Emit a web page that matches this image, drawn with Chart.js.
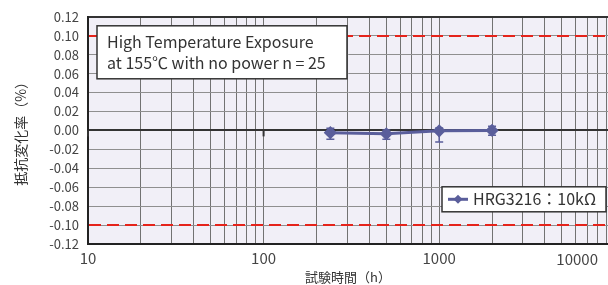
<!DOCTYPE html>
<html>
<head>
<meta charset="utf-8">
<script src="https://cdn.jsdelivr.net/npm/chart.js@4.4.1/dist/chart.umd.min.js"></script>
<style>
  html, body { margin: 0; padding: 0; background: #fff; }
  #wrap { width: 608px; height: 285px; position: relative; }
</style>
</head>
<body>
<div id="wrap"><canvas id="myChart"></canvas></div>
<script>
// test time (h) and resistance change (%)
const hours = [240, 500, 1000, 2000];
const meanChange = [-0.0024, -0.0036, -0.0004, 0.0000];
const maxChange = [0.0024, 0.0004, 0.0025, 0.0043];
const minChange = [-0.0093, -0.0093, -0.0122, -0.0051];
const limits = [0.10, -0.10];
const decadeLabels = [10, 100, 1000];
const lastDecadeLabel = '10000';
const seriesName = 'HRG3216：10kΩ';
const noteLines = ['High Temperature Exposure', 'at 155℃ with no power n = 25'];

const FONT = "'Noto Sans CJK JP', 'Noto Sans', sans-serif";
const lineColor = '#5a5e9b';
const xMin = 10, xMax = 9150;

// gridline positions 10,20..90,100,200..9000
const xGrid = [];
[10, 100, 1000].forEach(d => { for (let m = 1; m <= 9; m++) xGrid.push(d * m); });

const extras = {
  id: 'extras',
  beforeDraw(chart) {
    const {ctx, chartArea: a} = chart;
    ctx.save();
    ctx.fillStyle = '#f1eff7';
    ctx.fillRect(a.left, a.top, a.right - a.left, a.bottom - a.top);
    ctx.restore();
  },
  beforeDatasetsDraw(chart) {
    const {ctx, chartArea: a, scales: {x, y}} = chart;
    ctx.save();
    // spec limits
    ctx.strokeStyle = '#e5231b';
    ctx.lineWidth = 2;
    ctx.setLineDash([12, 6]);
    limits.forEach(v => {
      const py = Math.round(y.getPixelForValue(v));
      ctx.beginPath();
      ctx.moveTo(a.left + 1, py);
      ctx.lineTo(a.right, py);
      ctx.stroke();
    });
    ctx.setLineDash([]);
    // axis tick marks on the zero line
    ctx.strokeStyle = '#333';
    ctx.lineWidth = 2;
    const y0 = y.getPixelForValue(0);
    decadeLabels.forEach(v => {
      const px = x.getPixelForValue(v);
      ctx.beginPath();
      ctx.moveTo(px, y0);
      ctx.lineTo(px, y0 + 6);
      ctx.stroke();
    });
    ctx.restore();
  },
  afterDatasetsDraw(chart) {
    const {ctx, scales: {y}} = chart;
    const meta = chart.getDatasetMeta(0);
    ctx.save();
    ctx.strokeStyle = lineColor;
    ctx.lineWidth = 1.5;
    meta.data.forEach((pt, i) => {
      const top = y.getPixelForValue(maxChange[i]);
      const bot = y.getPixelForValue(minChange[i]);
      ctx.beginPath();
      ctx.moveTo(pt.x, top); ctx.lineTo(pt.x, bot);
      ctx.moveTo(pt.x - 4, top); ctx.lineTo(pt.x + 4, top);
      ctx.moveTo(pt.x - 4, bot); ctx.lineTo(pt.x + 4, bot);
      ctx.stroke();
    });
    ctx.restore();
  },
  afterDraw(chart) {
    const {ctx, chartArea: a, scales: {x}} = chart;
    ctx.save();
    // note box
    const nx = a.left + 9, ny = a.top + 9;
    ctx.fillStyle = '#fff';
    ctx.fillRect(nx, ny, 250, 53);
    ctx.strokeStyle = '#333';
    ctx.lineWidth = 1.5;
    ctx.strokeRect(nx, ny, 250, 53);
    ctx.fillStyle = '#333';
    ctx.font = '16px ' + FONT;
    ctx.textAlign = 'left';
    ctx.textBaseline = 'middle';
    noteLines.forEach((t, i) => ctx.fillText(t, nx + 10, ny + 16 + i * 21));

    // legend
    const lx = a.right - 166, ly = a.top + 170;
    ctx.fillStyle = '#fff';
    ctx.fillRect(lx, ly, 164, 25);
    ctx.strokeRect(lx, ly, 164, 25);
    const cy = ly + 12.5;
    ctx.strokeStyle = lineColor;
    ctx.lineWidth = 3;
    ctx.beginPath();
    ctx.moveTo(lx + 6, cy); ctx.lineTo(lx + 26, cy);
    ctx.stroke();
    ctx.fillStyle = lineColor;
    ctx.beginPath();
    ctx.moveTo(lx + 16, cy - 4.5); ctx.lineTo(lx + 20.5, cy);
    ctx.lineTo(lx + 16, cy + 4.5); ctx.lineTo(lx + 11.5, cy);
    ctx.closePath();
    ctx.fill();
    ctx.fillStyle = '#333';
    ctx.font = '16px ' + FONT;
    ctx.fillText(seriesName, lx + 31, cy);

    // last decade label, kept inside the canvas
    ctx.fillStyle = '#444';
    ctx.font = '15px ' + FONT;
    ctx.textAlign = 'right';
    ctx.fillText(lastDecadeLabel, a.right - 10, x.top + 15);
    ctx.restore();
  }
};

window.onload = function() {
  const ctx = document.getElementById('myChart').getContext('2d');
  Chart.defaults.font.family = FONT;
  new Chart(ctx, {
    type: 'line',
    data: {
      datasets: [{
        label: seriesName,
        data: hours.map((h, i) => ({x: h, y: meanChange[i]})),
        borderColor: lineColor,
        backgroundColor: lineColor,
        borderWidth: 3,
        pointStyle: 'rectRot',
        pointRadius: 4.5,
        tension: 0,
      }],
    },
    options: {
      responsive: true,
      maintainAspectRatio: false,
      animation: false,
      layout: { autoPadding: false, padding: { top: 16, right: 0, left: 0, bottom: 0 } },
      plugins: {
        legend: { display: false },
        tooltip: { enabled: false },
      },
      scales: {
        x: {
          type: 'logarithmic',
          min: xMin,
          max: xMax,
          afterBuildTicks: s => { s.ticks = xGrid.map(v => ({value: v})); },
          afterFit: s => { s.height = 41; s.paddingLeft = 0; s.paddingRight = 0; },
          ticks: {
            autoSkip: false,
            maxRotation: 0,
            color: '#444',
            font: { size: 15 },
            padding: 5,
            callback: v => decadeLabels.includes(v) ? String(v) : '',
          },
          grid: { color: '#727272', lineWidth: 1, drawTicks: false },
          border: { display: true, color: '#222', width: 2 },
          title: {
            display: true,
            text: '試験時間（h）',
            color: '#333',
            font: { size: 13 },
            padding: { top: 0, bottom: 0 },
          },
        },
        y: {
          min: -0.12,
          max: 0.12,
          afterFit: s => { s.width = 88; },
          ticks: {
            stepSize: 0.02,
            color: '#444',
            font: { size: 13 },
            padding: 9,
            callback: v => v.toFixed(2),
          },
          grid: {
            drawTicks: false,
            color: c => (Math.abs(c.tick.value) < 1e-9 || Math.abs(c.tick.value - 0.12) < 1e-9) ? '#333' : '#8f8f8f',
            lineWidth: c => (Math.abs(c.tick.value) < 1e-9 || Math.abs(c.tick.value - 0.12) < 1e-9) ? 2 : 1,
          },
          border: { display: true, color: '#222', width: 2 },
          title: {
            display: true,
            text: '抵抗変化率（%）',
            color: '#333',
            font: { size: 14 },
            padding: { top: 12, bottom: 0 },
          },
        },
      },
    },
    plugins: [extras],
  });
};
</script>
</body>
</html>
